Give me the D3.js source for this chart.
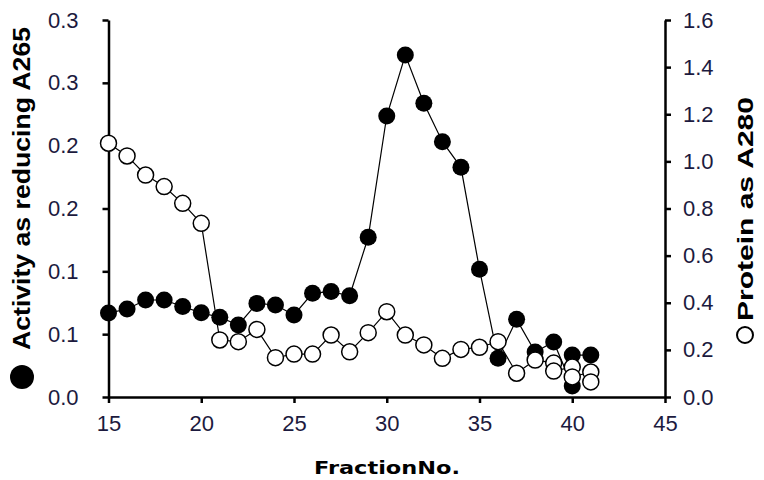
<!DOCTYPE html>
<html lang="en">
<head>
<meta charset="UTF-8">
<title>Fraction activity and protein</title>
<style>
  body { margin: 0; background: #fff; }
  svg text { font-family: "Liberation Sans", Arial, sans-serif; }
</style>
</head>
<body>
<div class="chart"></div>
<script src="https://d3js.org/d3.v7.min.js"></script>
<script>
// activity (filled circles, left axis)
var activityFrac = [15, 16, 17, 18, 19, 20, 21, 22, 23, 24, 25, 26, 27, 28, 29, 30, 31, 32, 33, 34, 35, 36, 37, 38, 39, 40, 40, 41];
var activity = [0.0668, 0.0700, 0.0772, 0.0772, 0.0720, 0.0670, 0.0635, 0.0573, 0.0745, 0.0732, 0.0653, 0.0826, 0.0839, 0.0806, 0.1271, 0.2236, 0.2721, 0.2337, 0.2032, 0.1828, 0.1016, 0.0308, 0.0618, 0.0358, 0.0438, 0.0088, 0.0334, 0.0334];

// protein (open circles, right axis)
var proteinFrac = [15, 16, 17, 18, 19, 20, 21, 22, 23, 24, 25, 26, 27, 28, 29, 30, 31, 32, 33, 34, 35, 36, 37, 38, 39, 39, 40, 40, 41, 41];
var protein = [1.077, 1.023, 0.942, 0.893, 0.822, 0.737, 0.242, 0.235, 0.287, 0.167, 0.182, 0.182, 0.263, 0.192, 0.273, 0.362, 0.263, 0.221, 0.164, 0.202, 0.211, 0.235, 0.101, 0.157, 0.144, 0.110, 0.127, 0.085, 0.106, 0.064];

var xTicks = [15, 20, 25, 30, 35, 40, 45];
var leftTicks = [0, 0.05, 0.1, 0.15, 0.2, 0.25, 0.3];
var leftTickLabels = ["0.0", "0.1", "0.1", "0.2", "0.2", "0.3", "0.3"];
var rightTicks = [0, 0.2, 0.4, 0.6, 0.8, 1.0, 1.2, 1.4, 1.6];

var width = 764, height = 480;
var plotLeft = 108.5, plotRight = 665, plotTop = 20, plotBottom = 397;
var labelColor = "#1c1a3e";

var svg = d3.select(".chart").append("svg")
    .attr("width", width)
    .attr("height", height);

var x = d3.scaleLinear().domain([15, 45]).range([plotLeft, plotRight]);
var yL = d3.scaleLinear().domain([0, 0.3]).range([plotBottom, plotTop]);
var yR = d3.scaleLinear().domain([0, 1.6]).range([plotBottom, plotTop]);

// axes
var xAxis = svg.append("g")
    .attr("transform", "translate(0," + plotBottom + ")")
    .call(d3.axisBottom(x).tickValues(xTicks).tickSize(6).tickSizeOuter(0).tickPadding(12));

var lAxis = svg.append("g")
    .attr("transform", "translate(" + plotLeft + ",0)")
    .call(d3.axisLeft(yL).tickValues(leftTicks).tickSize(6).tickSizeOuter(0).tickPadding(24)
        .tickFormat(function(d, i) { return leftTickLabels[i]; }));

var rAxis = svg.append("g")
    .attr("transform", "translate(" + plotRight + ",0)")
    .call(d3.axisRight(yR).tickValues(rightTicks).tickSize(6).tickSizeOuter(0).tickPadding(12)
        .tickFormat(d3.format(".1f")));

[xAxis, lAxis, rAxis].forEach(function(g) {
    g.attr("font-size", 22).attr("font-family", "'Liberation Sans', Arial, sans-serif");
    g.select(".domain").attr("stroke", "#000").attr("stroke-width", 2.5);
    g.selectAll(".tick line").attr("stroke", "#000").attr("stroke-width", 2.5);
    g.selectAll(".tick text").attr("fill", labelColor);
});

// lines
var lineA = d3.line()
    .x(function(d, i) { return x(activityFrac[i]); })
    .y(function(d) { return yL(d); });
var lineP = d3.line()
    .x(function(d, i) { return x(proteinFrac[i]); })
    .y(function(d) { return yR(d); });

svg.append("path")
    .attr("d", lineA(activity))
    .attr("fill", "none")
    .attr("stroke", "#000")
    .attr("stroke-width", 1.2);

svg.append("path")
    .attr("d", lineP(protein))
    .attr("fill", "none")
    .attr("stroke", "#000")
    .attr("stroke-width", 1.2);

// points
svg.append("g").selectAll("circle")
    .data(activity)
    .enter().append("circle")
    .attr("cx", function(d, i) { return x(activityFrac[i]); })
    .attr("cy", function(d) { return yL(d); })
    .attr("r", 8.5)
    .attr("fill", "#000");

svg.append("g").selectAll("circle")
    .data(protein)
    .enter().append("circle")
    .attr("cx", function(d, i) { return x(proteinFrac[i]); })
    .attr("cy", function(d) { return yR(d); })
    .attr("r", 8)
    .attr("fill", "#fff")
    .attr("stroke", "#000")
    .attr("stroke-width", 1.5);

// axis titles
svg.append("text")
    .attr("x", 387)
    .attr("y", 474)
    .attr("text-anchor", "middle")
    .attr("textLength", 146)
    .attr("lengthAdjust", "spacingAndGlyphs")
    .style("font-size", "18px")
    .style("font-weight", "bold")
    .style("font-family", "'DejaVu Sans', sans-serif")
    .attr("fill", "#000")
    .text("FractionNo.");

var lt = svg.append("g").attr("transform", "translate(22,202) rotate(-90)");
lt.append("circle").attr("cx", -175).attr("cy", 0).attr("r", 12).attr("fill", "#000");
lt.append("text")
    .attr("x", -148)
    .attr("y", 8)
    .attr("textLength", 323)
    .attr("lengthAdjust", "spacingAndGlyphs")
    .style("font-size", "23px")
    .style("font-weight", "bold")
    .attr("fill", "#000")
    .text("Activity as reducing A265");

var rt = svg.append("g").attr("transform", "translate(752,215) rotate(-90)");
rt.append("circle").attr("cx", -120).attr("cy", -7).attr("r", 8)
    .attr("fill", "#fff").attr("stroke", "#000").attr("stroke-width", 2);
rt.append("text")
    .attr("x", -106)
    .attr("y", 1)
    .attr("textLength", 224)
    .attr("lengthAdjust", "spacingAndGlyphs")
    .style("font-size", "22px")
    .style("font-weight", "bold")
    .attr("fill", "#000")
    .text("Protein as A280");
</script>
</body>
</html>
